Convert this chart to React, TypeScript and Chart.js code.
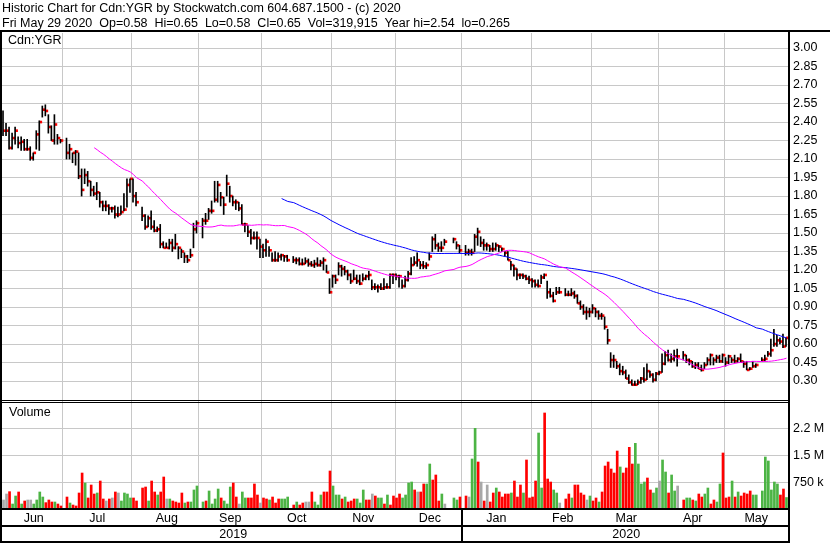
import React, { useEffect, useRef } from 'react';
import { Chart, registerables } from 'chart.js';

Chart.register(...registerables);

const FONT = '"Liberation Sans", Arial, sans-serif';
const FONT_SIZE = 12.5;
const GRID = '#c8c8c8';

const headerLines = [
  'Historic Chart for Cdn:YGR by Stockwatch.com 604.687.1500 - (c) 2020',
  'Fri May 29 2020  Op=0.58  Hi=0.65  Lo=0.58  Cl=0.65  Vol=319,915  Year hi=2.54  lo=0.265',
];
const symbolCaption = 'Cdn:YGR';
const volumeCaption = 'Volume';

// weekday slots per month (holidays are empty slots)
const monthNames = ['Jun', 'Jul', 'Aug', 'Sep', 'Oct', 'Nov', 'Dec', 'Jan', 'Feb', 'Mar', 'Apr', 'May'];
const monthSlots = [20, 23, 22, 21, 23, 21, 22, 23, 20, 22, 22, 21];
const yearNames = ['2019', '2020'];
const monthsPerYear = [7, 5];

const priceTicks = [0.3, 0.45, 0.6, 0.75, 0.9, 1.05, 1.2, 1.35, 1.5, 1.65, 1.8, 1.95, 2.1, 2.25, 2.4, 2.55, 2.7, 2.85, 3.0];
const priceMin = 0.138;
const priceMax = 3.122;
const volumeTicks = [750000, 1500000, 2250000];
const volumeTickLabels = ['750 k', '1.5 M', '2.2 M'];
const volumeMax = 3010000;
const shortMaDays = 30;
const longMaDays = 90;

const high = [
  2.49, 2.39, 2.36, 2.31, 2.36, 2.28, 2.28, 2.26, 2.26, 2.2, 2.15, 2.33, 2.41, 2.53, 2.54, 2.46, 2.37, 2.46, 2.3, 2.26,
  null, 2.27, 2.22, 2.15, 2.17, 2.15, 2.02, 2.02, 2.0, 1.92, 1.88, 1.91, 1.83, 1.76, 1.76, 1.73, 1.71, 1.72, 1.71, 1.72, 1.82, 1.94, 1.94,
  1.94, 1.83, null, 1.71, 1.65, 1.64, 1.68, 1.6, 1.55, 1.57, 1.43, 1.42, 1.45, 1.45, 1.49, 1.39, 1.37, 1.34, 1.32, 1.37, 1.58, 1.6,
  null, 1.62, 1.66, 1.7, 1.76, 1.92, 1.92, 1.83, 1.79, 1.97, 1.88, 1.8, 1.77, 1.75, 1.73, 1.58, 1.56, 1.53, 1.51, 1.51, 1.45,
  1.41, 1.45, 1.39, 1.34, 1.35, 1.34, 1.33, 1.32, 1.32, null, 1.31, 1.3, 1.3, 1.29, 1.3, 1.29, 1.27, 1.28, 1.3, 1.28, 1.3, 1.24, 1.13,
  1.16, 1.16, 1.26, 1.24, 1.23, 1.2, 1.17, 1.2, 1.16, 1.16, 1.17, 1.16, 1.19, 1.12, 1.09, 1.08, 1.09, 1.13, 1.09, 1.17, 1.17,
  1.17, 1.16, 1.12, 1.15, 1.19, 1.3, 1.31, 1.34, 1.27, 1.27, 1.26, 1.34, 1.47, 1.49, 1.42, 1.43, 1.45, null, null, 1.46, 1.43, 1.4,
  null, 1.4, 1.37, 1.37, 1.49, 1.54, 1.47, 1.45, 1.42, 1.4, 1.42, 1.42, 1.4, 1.38, 1.35, 1.35, 1.27, 1.24, 1.21, 1.17, 1.17, 1.16, 1.15,
  1.13, 1.12, 1.12, 1.16, 1.17, 1.11, 1.05, 1.02, 1.06, 1.06, null, 1.05, 1.03, 1.05, 1.03, 1.0, 0.95, 0.92, 0.9, 0.89,
  0.92, 0.89, 0.87, 0.85, 0.82, 0.72, 0.53, 0.51, 0.46, 0.44, 0.42, 0.39, 0.35, 0.31, 0.3, 0.31, 0.33, 0.41, 0.44, 0.38, 0.36, 0.37,
  0.38, 0.52, 0.54, 0.55, 0.52, 0.55, 0.56, null, 0.54, 0.51, 0.48, 0.46, 0.45, 0.45, 0.43, 0.45, 0.49, 0.52, 0.49, 0.51, 0.51, 0.52,
  0.49, 0.51, 0.49, 0.51, 0.49, 0.52, 0.46, 0.46, 0.41, 0.46, 0.44, null, 0.49, 0.51, 0.54, 0.64, 0.72, 0.67, 0.65, 0.68, 0.65,
];

const low = [
  2.29, 2.29, 2.18, 2.18, 2.22, 2.19, 2.17, 2.17, 2.17, 2.09, 2.09, 2.18, 2.17, 2.44, 2.45, 2.31, 2.25, 2.22, 2.22, 2.23,
  null, 2.1, 2.1, 2.07, 2.05, 1.94, 1.8, 1.9, 1.88, 1.8, 1.8, 1.77, 1.71, 1.68, 1.68, 1.65, 1.67, 1.62, 1.63, 1.65, 1.68, 1.71, 1.83,
  1.75, 1.72, null, 1.6, 1.53, 1.55, 1.53, 1.51, 1.51, 1.38, 1.38, 1.38, 1.37, 1.35, 1.37, 1.29, 1.3, 1.26, 1.26, 1.3, 1.38, 1.5,
  null, 1.46, 1.57, 1.61, 1.66, 1.75, 1.75, 1.72, 1.65, 1.8, 1.75, 1.72, 1.69, 1.68, 1.57, 1.51, 1.47, 1.41, 1.45, 1.37, 1.3,
  1.3, 1.31, 1.31, 1.27, 1.27, 1.27, 1.28, 1.27, 1.27, null, 1.26, 1.25, 1.24, 1.24, 1.25, 1.23, 1.23, 1.22, 1.23, 1.23, 1.2, 1.18, 1.01,
  1.06, 1.09, 1.16, 1.15, 1.16, 1.12, 1.09, 1.12, 1.09, 1.08, 1.11, 1.12, 1.12, 1.04, 1.04, 1.02, 1.04, 1.04, 1.05, 1.05, 1.09,
  1.12, 1.06, 1.05, 1.06, 1.11, 1.16, 1.24, 1.23, 1.21, 1.21, 1.21, 1.28, 1.35, 1.37, 1.35, 1.35, 1.4, null, null, 1.42, 1.37, 1.34,
  null, 1.32, 1.32, 1.32, 1.35, 1.4, 1.39, 1.36, 1.36, 1.35, 1.35, 1.36, 1.35, 1.35, 1.31, 1.28, 1.2, 1.15, 1.12, 1.13, 1.13, 1.12, 1.09,
  1.06, 1.06, 1.06, 1.09, 1.13, 0.97, 0.98, 0.94, 1.0, 1.01, null, 0.99, 0.99, 0.99, 0.97, 0.93, 0.88, 0.84, 0.8, 0.82,
  0.85, 0.82, 0.8, 0.8, 0.72, 0.6, 0.41, 0.41, 0.4, 0.35, 0.35, 0.32, 0.28, 0.265, 0.265, 0.27, 0.28, 0.29, 0.31, 0.33, 0.29, 0.3,
  0.35, 0.37, 0.43, 0.46, 0.45, 0.46, 0.42, null, 0.47, 0.45, 0.43, 0.41, 0.4, 0.4, 0.38, 0.4, 0.43, 0.43, 0.43, 0.45, 0.45, 0.45,
  0.42, 0.44, 0.45, 0.45, 0.45, 0.45, 0.41, 0.39, 0.39, 0.41, 0.41, null, 0.46, 0.46, 0.5, 0.5, 0.58, 0.58, 0.6, 0.57, 0.58,
];

const close = [
  2.33, 2.33, 2.19, 2.27, 2.33, 2.23, 2.24, 2.18, 2.18, 2.11, 2.15, 2.3, 2.4, 2.5, 2.49, 2.36, 2.25, 2.38, 2.27, 2.25,
  null, 2.15, 2.18, 2.15, 2.16, 1.96, 1.85, 1.97, 1.92, 1.85, 1.82, 1.83, 1.75, 1.72, 1.72, 1.7, 1.7, 1.65, 1.65, 1.67, 1.69, 1.89, 1.94,
  1.8, 1.75, null, 1.64, 1.55, 1.62, 1.55, 1.52, 1.53, 1.41, 1.38, 1.38, 1.42, 1.38, 1.41, 1.38, 1.35, 1.31, 1.28, 1.32, 1.53, 1.58,
  null, 1.6, 1.6, 1.68, 1.68, 1.77, 1.89, 1.79, 1.73, 1.9, 1.8, 1.75, 1.75, 1.7, 1.57, 1.57, 1.51, 1.46, 1.46, 1.46, 1.39,
  1.36, 1.43, 1.36, 1.28, 1.28, 1.31, 1.32, 1.31, 1.28, null, 1.28, 1.28, 1.25, 1.25, 1.27, 1.25, 1.24, 1.25, 1.24, 1.26, 1.28, 1.18, 1.02,
  1.15, 1.12, 1.23, 1.21, 1.19, 1.16, 1.11, 1.13, 1.11, 1.09, 1.13, 1.15, 1.16, 1.06, 1.06, 1.06, 1.05, 1.06, 1.06, 1.16, 1.16,
  1.15, 1.15, 1.07, 1.12, 1.17, 1.24, 1.26, 1.28, 1.24, 1.23, 1.24, 1.31, 1.45, 1.4, 1.38, 1.38, 1.43, null, null, 1.45, 1.4, 1.36,
  null, 1.34, 1.35, 1.34, 1.47, 1.51, 1.42, 1.4, 1.4, 1.37, 1.37, 1.4, 1.39, 1.37, 1.34, 1.28, 1.24, 1.21, 1.16, 1.16, 1.15, 1.13, 1.12,
  1.11, 1.08, 1.07, 1.14, 1.16, 1.02, 0.99, 0.95, 1.02, 1.02, null, 1.0, 1.0, 1.01, 0.99, 0.93, 0.9, 0.86, 0.86, 0.86,
  0.89, 0.86, 0.83, 0.83, 0.74, 0.63, 0.47, 0.47, 0.42, 0.38, 0.37, 0.32, 0.29, 0.27, 0.27, 0.29, 0.32, 0.31, 0.38, 0.35, 0.31, 0.36,
  0.37, 0.44, 0.51, 0.47, 0.48, 0.5, 0.5, null, 0.51, 0.47, 0.46, 0.42, 0.43, 0.4, 0.39, 0.43, 0.47, 0.51, 0.47, 0.49, 0.46, 0.51,
  0.45, 0.5, 0.47, 0.46, 0.48, 0.46, 0.44, 0.39, 0.4, 0.42, 0.43, null, 0.47, 0.48, 0.52, 0.55, 0.6, 0.63, 0.62, 0.58, 0.65,
];

// volume in thousands of shares
const volumeK = [
  251, 418, 483, 139, 362, 474, 139, 223, 251, 251, 139, 251, 474, 334, 177, 251, 195, 195, 139, 84,
  null, 334, 167, 111, 84, 446, 1003, 725, 307, 669, 418, 446, 780, 279, 223, 279, 307, 474, 446, 223, 446, 418, 307,
  307, 223, null, 585, 613, 223, 780, 474, 390, 474, 892, 279, 279, 223, 195, 167, 446, 167, 195, 195, 530, 641,
  null, 195, 223, 502, 139, 279, 557, 307, 223, 139, 613, 725, 334, 139, 474, 307, 307, 307, 697, 390, 167,
  307, 279, 251, 334, 167, 279, 279, 279, 334, null, 111, 195, 111, 167, 195, 195, 474, 195, 111, 390, 474, 474, 1059,
  641, 390, 390, 279, 334, 195, 223, 279, 279, 167, 530, 251, 251, 418, 362, 307, 307, 139, 390, 111, 362,
  307, 418, 307, 390, 725, 752, 530, 474, 474, 697, 697, 1254, 808, 948, 223, 418, 139, null, null, 307, 251, 334,
  null, 362, 334, 1394, 2248, 1310, 752, 223, 669, 195, 446, 585, 474, 334, 418, 418, 446, 780, 334, 669, 446, 1366, 307,
  334, 780, 2118, 585, 2676, 836, 752, 530, 446, 167, null, 279, 418, 307, 669, 669, 446, 390, 251, 362,
  223, 307, 195, 474, 1198, 1310, 1115, 1003, 1616, 1171, 1003, 1143, 1719, 1254, 1830, 1254, 697, 752, 864, 530, 446, 585,
  780, 1366, 1031, 446, 948, 502, 641, null, 251, 307, 307, 251, 223, 418, 334, 418, 585, 139, 251, 195, 697, 1561,
  307, 334, 780, 334, 474, 362, 446, 418, 502, 390, 390, null, 502, 1449, 1338, 530, 752, 697, 390, 557, 320,
];

// g = up day, r = down day, n = unchanged, _ = no trading
const volumeTone = [
  'nnrggrgrnnggggrrrgrr',
  '_rgrrrrgrrrgrrnrnrngggg',
  'rr_rrgrrgrrngrrrrgrggg',
  '_grggggrgggrrnggrrrrn',
  'rrgrrrggg_rgrrnnrgggrrr',
  'gggrgrrrgggrrnrggrgrr',
  'rrggggrnrrggrrrgn__ggr',
  '_rnggrnrnrrgrrrrgrrrgrr',
  'rrggrrrggn_rrgrrrrng',
  'rrgrrrrrrgrrrrggggrrgg',
  'nggrggn_rggrgrrggrrggr',
  'rrgrgrrrrgg_ggggggrrg',
].join('');

const toneColor: Record<string, string> = { g: '#4cb444', r: '#ff0000', n: '#a8a8a8', _: '#ffffff' };

// ---- derived structures ----
const labels: string[] = [];
const monthStart: number[] = [];
monthNames.forEach((m, mi) => {
  monthStart.push(labels.length);
  for (let d = 0; d < monthSlots[mi]; d++) labels.push(`${m}-${d + 1}`);
});
const monthLabelAt = new Map<number, string>();
monthNames.forEach((m, mi) => monthLabelAt.set(monthStart[mi] + Math.floor(monthSlots[mi] / 2), m));
const monthGrid = new Set(monthStart.slice(1));

const yearLabelAt = new Map<number, string>();
const yearStart: number[] = [];
{
  let mi = 0;
  yearNames.forEach((y, yi) => {
    const s = monthStart[mi];
    mi += monthsPerYear[yi];
    const e = mi < monthStart.length ? monthStart[mi] : labels.length;
    yearStart.push(s);
    yearLabelAt.set(Math.floor((s + e) / 2), y);
  });
}

function movingAverage(values: (number | null)[], n: number) {
  const win: number[] = [];
  return values.map((v) => {
    if (v === null) return null;
    win.push(v);
    if (win.length > n) win.shift();
    return win.length === n ? win.reduce((a, b) => a + b, 0) / n : null;
  });
}

const maShort = movingAverage(close, shortMaDays);
const maLong = movingAverage(close, longMaDays);

const framePlugin = {
  id: 'stockFrame',
  afterDraw(chart: any) {
    const { ctx, chartArea, scales } = chart;
    const W = chart.width;
    const H = chart.height;
    const right = chartArea.right;
    ctx.save();
    ctx.fillStyle = '#000';
    ctx.fillRect(0, chartArea.top - 3, W, 2);
    ctx.fillRect(0, chartArea.top - 3, 2, H - chartArea.top + 3);
    ctx.fillRect(right, chartArea.top - 3, 2, H - chartArea.top + 3);
    const sep = scales.y.bottom;
    ctx.fillRect(0, sep - 1, right, 1);
    ctx.fillRect(0, sep + 1, right, 1);
    const xa = scales.x;
    const xb = scales.x2;
    ctx.fillRect(0, xa.top - 1, right, 2);
    ctx.fillRect(0, xb.top - 1, right, 2);
    ctx.fillRect(0, xb.bottom - 1, right + 2, 2);
    const slotW = xa.getPixelForValue(1) - xa.getPixelForValue(0);
    yearStart.slice(1).forEach((s) => {
      const px = xa.getPixelForValue(s) - slotW / 2;
      ctx.fillRect(Math.round(px) - 1, xa.top, 2, xb.bottom - xa.top);
    });
    ctx.font = `${FONT_SIZE}px ${FONT}`;
    ctx.textBaseline = 'middle';
    ctx.textAlign = 'left';
    ctx.fillText(symbolCaption, 8, chartArea.top + 8);
    ctx.fillText(volumeCaption, 9, scales.yVol.top + 12);
    ctx.restore();
  },
};

export default function App() {
  const ref = useRef<HTMLCanvasElement>(null);
  useEffect(() => {
    const canvas = ref.current;
    if (!canvas) return;
    Chart.defaults.font.family = FONT;
    const font = { family: FONT, size: FONT_SIZE };
    const chart = new Chart(canvas, {
      type: 'bar',
      data: {
        labels,
        datasets: [
          {
            type: 'line', label: `${shortMaDays}-day average`, data: maShort as any, borderColor: '#ff00ff',
            borderWidth: 1, pointRadius: 0, spanGaps: true, yAxisID: 'y', xAxisID: 'x',
          },
          {
            type: 'line', label: `${longMaDays}-day average`, data: maLong as any, borderColor: '#0000ff',
            borderWidth: 1, pointRadius: 0, spanGaps: true, yAxisID: 'y', xAxisID: 'x',
          },
          {
            type: 'bar', label: 'High-Low', data: high.map((h, i) => (h === null ? null : [low[i] as number, h])) as any,
            backgroundColor: '#000000', barThickness: 1, grouped: true, yAxisID: 'y', xAxisID: 'x',
          },
          {
            type: 'bar', label: 'Close', data: close.map((c) => (c === null ? null : [c - 0.008, c + 0.008])) as any,
            backgroundColor: '#ff0000', barThickness: 2, grouped: true, yAxisID: 'y', xAxisID: 'x',
          },
          {
            type: 'bar', label: 'Volume', data: volumeK.map((v) => (v === null ? null : v * 1000)) as any,
            backgroundColor: volumeTone.split('').map((t) => toneColor[t]), barThickness: 2, grouped: false,
            yAxisID: 'yVol', xAxisID: 'x',
          },
        ],
      },
      options: {
        responsive: false,
        animation: false,
        devicePixelRatio: 1,
        events: [],
        layout: { padding: { left: 2, right: 0, top: 0, bottom: 1 } },
        plugins: {
          legend: { display: false },
          tooltip: { enabled: false },
          title: {
            display: true, text: headerLines, align: 'start', color: '#000', fullSize: true,
            font: { family: FONT, size: FONT_SIZE, weight: 'normal', lineHeight: '15px' }, padding: { top: 1, bottom: 2 },
          },
        },
        scales: {
          x: {
            type: 'category', position: 'bottom', offset: true,
            grid: { offset: true, drawTicks: false, lineWidth: 1, color: (c: any) => (monthGrid.has(c.index) ? GRID : 'rgba(0,0,0,0)') },
            border: { display: false },
            ticks: {
              autoSkip: false, maxRotation: 0, minRotation: 0, padding: 2, color: '#000', font,
              callback: (_v: any, i: number) => monthLabelAt.get(i) ?? '',
            },
            afterFit: (s: any) => { s.height = 17; },
          },
          x2: {
            type: 'category', position: 'bottom', offset: true,
            grid: { display: false, drawTicks: false },
            border: { display: false },
            ticks: {
              autoSkip: false, maxRotation: 0, minRotation: 0, padding: 1, color: '#000', font,
              callback: (_v: any, i: number) => yearLabelAt.get(i) ?? '',
            },
            afterFit: (s: any) => { s.height = 16; },
          },
          y: {
            type: 'linear', position: 'right', stack: 'panels', stackWeight: 368, min: priceMin, max: priceMax,
            afterBuildTicks: (s: any) => { s.ticks = priceTicks.map((value) => ({ value })); },
            grid: { color: GRID, drawTicks: false, lineWidth: 1 },
            border: { display: false },
            ticks: { autoSkip: false, padding: 5, color: '#000', font, callback: (v: any) => Number(v).toFixed(2) },
            afterFit: (s: any) => { s.width = 42; },
          },
          yVol: {
            type: 'linear', position: 'right', stack: 'panels', stackWeight: 108, min: 0, max: volumeMax,
            afterBuildTicks: (s: any) => { s.ticks = volumeTicks.map((value) => ({ value })); },
            grid: { color: GRID, drawTicks: false, lineWidth: 1 },
            border: { display: false },
            ticks: {
              autoSkip: false, padding: 5, color: '#000', font,
              callback: (v: any) => volumeTickLabels[volumeTicks.indexOf(Number(v))] ?? '',
            },
            afterFit: (s: any) => { s.width = 42; },
          },
        },
      } as any,
      plugins: [framePlugin],
    });
    return () => chart.destroy();
  }, []);

  return (
    <div style={{ position: 'fixed', left: 0, top: 0, width: 830, height: 543, background: '#ffffff' }}>
      <canvas ref={ref} width={830} height={543} style={{ display: 'block', width: 830, height: 543 }} />
    </div>
  );
}
